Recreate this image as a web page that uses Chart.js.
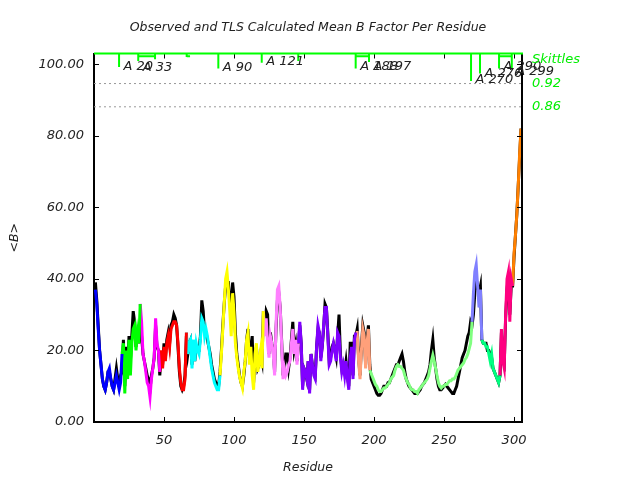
<!DOCTYPE html>
<html>
<head>
<meta charset="utf-8">
<script src="https://cdn.jsdelivr.net/npm/chart.js@4/dist/chart.umd.min.js"></script>
<style>
  html, body { margin: 0; padding: 0; background: #fff; }
  #wrap { width: 640px; height: 480px; }
</style>
</head>
<body>
<div id="wrap"><canvas id="c" width="640" height="480"></canvas></div>
<script>
// ---------- DATA ----------
const residueTicks = [50, 100, 150, 200, 250, 300];
const bTicks = [0, 20, 40, 60, 80, 100];

// Observed mean B per residue (residues 1..305)
const observedB = [
  39,34,27,20,16,12,10,9,11,14,14,12,10,9,12,15,12,11,13,
  14,23,10,21,13,24,17,24,31,28,21,26,22,
  28,24,19,17,15,13,12,9,13,15,18,27,21,20,
  13,19,16,22,18,23,25,22,27,28,30,29,27,21,14,10,9,10,13,
  24,19,22,23,16,22,17,21,20,20,24,34,31,25,25,23,21,19,16,14,12,11,10,10,
  14,20,27,33,38,39,39,35,28,39,35,25,19,16,13,11,10,13,17,23,26,18,21,24,11,18,21,15,16,19,17,
  31,26,31,30,19,25,22,20,14,26,34,36,32,23,13,16,19,19,15,18,23,28,20,22,17,
  21,27,22,10,15,14,12,17,9,19,16,14,13,21,26,25,18,21,26,33,32,25,17,18,21,22,20,18,24,30,19,15,16,14,17,13,10,22,22,13,24,
  24,26,18,13,21,27,25,16,23,27,
  16,12,11,10,9,8,7.5,7.5,8,9,
  10,10,10,11,11,12,13,14,15,16,
  16,17,18,19,17,14,12,11,10,9.5,
  9,8.5,8,8,8,8.5,9,10,10.5,11,
  12,13,14,16,20,23,18,15,12,10,
  9,9,9.5,10,10.5,10,9.5,9,8.5,8,
  8,9,10,12,14,16,18,19,20,22,
  24,25,28,
  27,30,36,40,38,36,38,
  23,22,22,22,20,20,19,18,15,14,13,12,11,
  13,25,17,16,29,37,41,30,38,
  38,46,52,58,66,74,82
];

// TLS calculated mean B per residue (residues 1..305)
const tlsB = [
  37,33,26,20,16,12,10,9,11,14,15,12,10,9,11,13,11,9,11,
  19,22,8,20,12,23,13,22,26,27,20,25,22,
  33,28,19,17,14,11,10,7,12,15,18,29,22,20,
  14,20,15,21,17,22,24,21,26,27,28,28,27,22,15,11,9,9,12,
  25,19,22,23,15,23,17,22,20,19,23,29,28,24,26,24,21,18,15,13,11,10,9,9,
  13,19,26,33,40,42,37,31,24,36,31,22,18,15,12.6,11,9.5,14,17,23,25,16,21,13,9,19,22,14,17,20,15,
  31,24,29,22,18,24,22,19,13,27,37,38,32,22,12,15,13,14,16,17,22,26,19,23,16,
  22,28,22,9,15,14,12,17,8,19,16,13,12,21,27,25,17,21,27,32,32,24,16,17,20,22,20,17,25,24,18,14,16,13,17,12,9,18,21,12,23,
  25,25,17,12,20,26,24,15,22,26,
  14.5,13.5,12.5,11.5,10.5,10,9,8.5,8.5,9,
  9.5,9.5,10,10.5,11,12,12.5,13,14.5,15.5,
  16,15.5,15.5,15,14.5,13,12,11,10.5,9.5,
  9,9,8.5,8.5,8,9,9.5,10,10.5,11,
  11.5,12,13,15,17,18.7,17,15,13,11,
  10,9.5,10,10,10.5,10.5,11,11.5,11.5,12,
  12,12.5,13.5,14.5,15,15.5,16,16.5,17.5,18,
  19,20.5,22,
  28,36,42,44,38,32,37,
  23,22,22,21,21,19,17,19,15,14,13,12,11,
  13,26,17,15,30,40,42,28,40,
  38,47,52,58,66,75,82
];

// TLS groups: first residue of each group and its colour
const groupStarts = [1, 20, 33, 47, 66, 90, 121, 146, 187, 197, 270, 277, 290, 299];
const groupColors = ['#0000ff','#00ff00','#ff00ff','#ff0000','#00ffff','#ffff00','#ff80ff',
                     '#8000ff','#ffa07a','#80ff80','#8080ff','#00ff80','#ff0080','#ff8000'];

// Skittle markers (residue position, lower end in B units)
const skittleRes    = [17.9, 31.6, 43.6, 66.2, 88.8, 119.8, 145.9, 186.9, 196.4, 269.3, 275.7, 289.3, 298.4];
const skittleBottom = [99.2, 100.9, 101.4, 102.0, 98.8, 100.4, 100.9, 98.8, 100.6, 95.3, 97.4, 98.8, 98.5];
const bracketStart  = [31.6, 66.2, 186.9, 289.3];
const bracketEnd    = [43.6, 68.6, 196.4, 298.4];
const bracketLevel  = 102.2;

// Skittle labels
const skLabelText  = ['A 20','A 33','A 90','A 121','A 188','A 197','A 270','A 276','A 290','A 299'];
const skLabelRes   = [17.9, 31.6, 88.8, 119.8, 186.9, 196.4, 269.3, 275.7, 289.3, 298.4];
const skLabelValue = [99.4, 99.1, 99.0, 100.6, 99.4, 99.4, 95.7, 97.5, 99.2, 97.8];

// Threshold lines and side labels
const thresholdValues = [94.6, 88.1];
const sideLabelText  = ['Skittles', '0.92', '0.86'];
const sideLabelValue = [101.2, 94.6, 88.1];

const xMin = 0, xMax = 305.7, yMin = 0, yMax = 103;

// ---------- BUILD ----------
const FONT = "'DejaVu Sans', sans-serif";
const residues = observedB.map((_, i) => i + 1);

const datasets = [];

// skittle markers
const skPts = [];
skittleRes.forEach((r, i) => {
  skPts.push({x: r, y: yMax}, {x: r, y: skittleBottom[i]}, {x: r, y: null});
});
bracketStart.forEach((r, i) => {
  skPts.push({x: r, y: bracketLevel}, {x: bracketEnd[i], y: bracketLevel}, {x: bracketEnd[i], y: null});
});
datasets.push({
  label: 'skittles', data: skPts, borderColor: '#00ff00', borderWidth: 2,
  pointRadius: 0, spanGaps: false, order: 0, tension: 0
});

// TLS groups
groupStarts.forEach((start, g) => {
  const end = g < groupStarts.length - 1 ? groupStarts[g + 1] : residues.length;
  const pts = [];
  for (let r = start; r <= end; r++) pts.push({x: residues[r - 1], y: tlsB[r - 1]});
  datasets.push({
    label: 'TLS ' + (g + 1), data: pts, borderColor: groupColors[g], borderWidth: 3,
    pointRadius: 0, tension: 0, order: 1
  });
});

// observed
datasets.push({
  label: 'Observed', data: residues.map((r, i) => ({x: r, y: observedB[i]})),
  borderColor: '#000000', borderWidth: 3, pointRadius: 0, tension: 0, order: 10
});

// threshold dotted lines
thresholdValues.forEach(v => {
  datasets.push({
    label: 'thr', data: [{x: xMin, y: v}, {x: xMax, y: v}], borderColor: '#999999',
    borderWidth: 1, borderDash: [2, 3], pointRadius: 0, order: 20
  });
});

const framePlugin = {
  id: 'frame',
  afterDraw(chart) {
    const {ctx, chartArea: a, scales: {x, y}} = chart;
    ctx.save();
    // ticks inward on all sides
    ctx.strokeStyle = '#000'; ctx.lineWidth = 1;
    x.ticks.forEach(t => {
      const px = Math.round(x.getPixelForValue(t.value)) + 0.5;
      ctx.beginPath(); ctx.moveTo(px, a.bottom); ctx.lineTo(px, a.bottom - 5); ctx.stroke();
      ctx.beginPath(); ctx.moveTo(px, a.top); ctx.lineTo(px, a.top + 5); ctx.stroke();
    });
    y.ticks.forEach(t => {
      const py = Math.round(y.getPixelForValue(t.value)) + 0.5;
      ctx.beginPath(); ctx.moveTo(a.left, py); ctx.lineTo(a.left + 5, py); ctx.stroke();
      ctx.beginPath(); ctx.moveTo(a.right, py); ctx.lineTo(a.right - 5, py); ctx.stroke();
    });
    // right border black, top border green
    ctx.lineWidth = 2;
    ctx.strokeStyle = '#000';
    ctx.beginPath(); ctx.moveTo(a.right, a.top); ctx.lineTo(a.right, a.bottom); ctx.stroke();
    ctx.strokeStyle = '#00ff00';
    ctx.beginPath(); ctx.moveTo(a.left, a.top); ctx.lineTo(a.right + 1, a.top); ctx.stroke();

    // skittle labels
    ctx.font = 'italic 13px ' + FONT;
    ctx.fillStyle = '#222';
    ctx.textBaseline = 'middle';
    ctx.textAlign = 'left';
    skLabelText.forEach((t, i) => {
      ctx.fillText(t, x.getPixelForValue(skLabelRes[i]) + 4.5, y.getPixelForValue(skLabelValue[i]));
    });
    // side labels
    ctx.fillStyle = '#00ee00';
    sideLabelText.forEach((t, i) => {
      ctx.fillText(t, a.right + 10, y.getPixelForValue(sideLabelValue[i]));
    });
    ctx.restore();
  }
};

new Chart(document.getElementById('c'), {
  type: 'line',
  data: { datasets },
  options: {
    responsive: false,
    animation: false,
    devicePixelRatio: 1,
    layout: { padding: { left: 0, right: 118, top: 0, bottom: 0 } },
    plugins: {
      legend: { display: false },
      tooltip: { enabled: false },
      title: {
        display: true, fullSize: false,
        text: 'Observed and TLS Calculated Mean B Factor Per Residue',
        color: '#222', font: { family: FONT, size: 12.5, style: 'italic', weight: 'normal' },
        padding: { top: 20, bottom: 18.5 }
      }
    },
    scales: {
      x: {
        type: 'linear', min: xMin, max: xMax, position: 'bottom',
        afterBuildTicks: s => { s.ticks = residueTicks.map(v => ({value: v})); },
        afterFit: s => { s.height = 58; },
        grid: { display: false, drawTicks: false },
        border: { display: true, color: '#000', width: 2 },
        ticks: { padding: 11, color: '#222', maxRotation: 0, autoSkip: false,
                 font: { family: FONT, size: 13, style: 'italic' } },
        title: { display: true, text: 'Residue', color: '#222',
                 font: { family: FONT, size: 12.5, style: 'italic' }, padding: { top: 0, bottom: 5 } }
      },
      y: {
        type: 'linear', min: yMin, max: yMax, position: 'left',
        afterBuildTicks: s => { s.ticks = bTicks.map(v => ({value: v})); },
        afterFit: s => { s.width = 94; },
        grid: { display: false, drawTicks: false },
        border: { display: true, color: '#000', width: 2 },
        ticks: { padding: 10, color: '#222', autoSkip: false,
                 callback: v => Number(v).toFixed(2),
                 font: { family: FONT, size: 13, style: 'italic' } },
        title: { display: true, text: '<B>', color: '#222',
                 font: { family: FONT, size: 12.5, style: 'italic' }, padding: { top: 7, bottom: 0 } }
      }
    }
  },
  plugins: [framePlugin]
});
</script>
</body>
</html>
